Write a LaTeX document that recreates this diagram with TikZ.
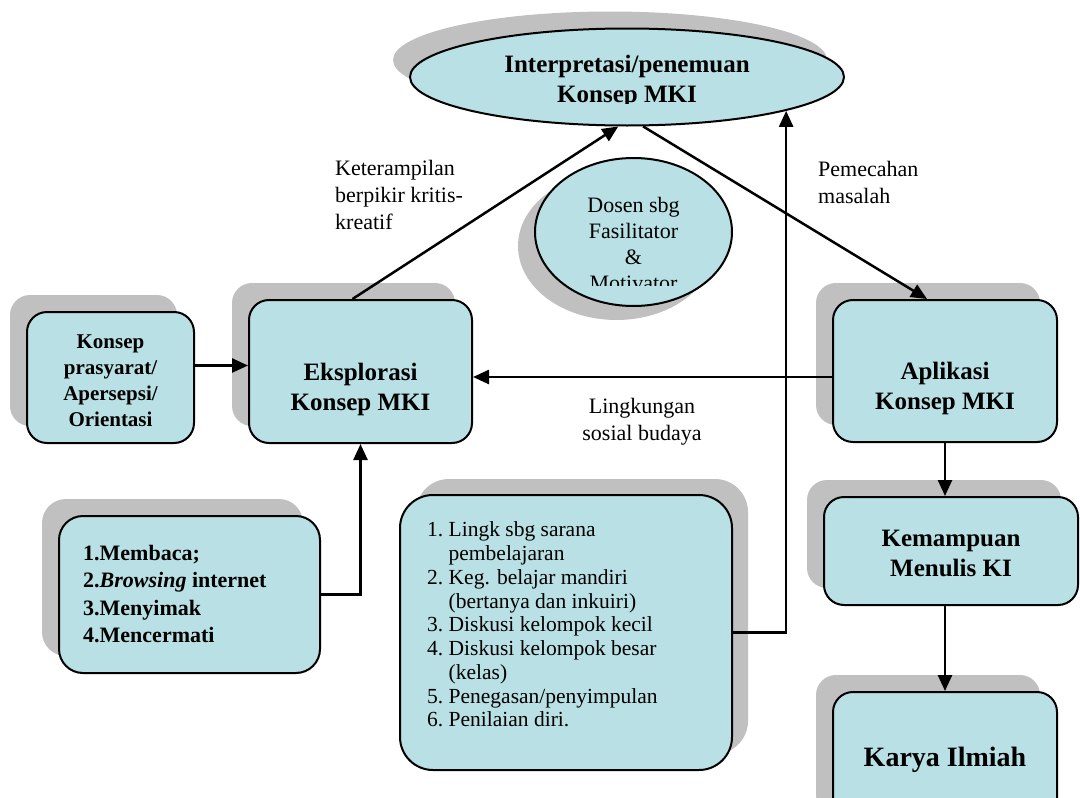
\documentclass[tikz,border=0pt]{standalone}
\usepackage{fontspec}
\setmainfont{Liberation Serif}
\usetikzlibrary{shadows,arrows.meta,shapes.geometric}
\definecolor{boxfill}{RGB}{185,224,228}
\definecolor{shgray}{RGB}{192,192,192}
\begin{document}
\begin{tikzpicture}[x=1pt,y=-1pt,
  box/.style={draw=black, line width=2pt, fill=boxfill, rounded corners=20pt, inner sep=0pt},
  ell/.style={draw=black, line width=2pt, fill=boxfill, ellipse, inner sep=0pt},
  shL/.style={general shadow={shadow xshift=-17pt, shadow yshift=17pt, fill=shgray}},
  shR/.style={general shadow={shadow xshift=16pt, shadow yshift=16pt, fill=shgray}},
  shD/.style={general shadow={shadow xshift=-17pt, shadow yshift=-14pt, fill=shgray}},
  arr/.style={line width=2.5pt, -{Triangle[length=16pt,width=14pt]}},
  reg/.style={font=\fontsize{22}{27}\selectfont, inner sep=0pt},
  bfa/.style={font=\bfseries\fontsize{25}{30}\selectfont, inner sep=0pt, align=center},
  bfb/.style={font=\bfseries\fontsize{21}{26}\selectfont, inner sep=0pt, align=center},
  bfc/.style={font=\bfseries\fontsize{22}{27.3}\selectfont, inner sep=0pt, align=left},
]
\useasboundingbox (0,0) rectangle (1080,798);

% main ellipse
\node[ell, shL, minimum width=434pt, minimum height=97pt] (interp) at (627,77) {};
\begin{scope}
  \clip (0,0) rectangle (1080,103);
  \node[bfa] (interpT) at (627,81) {Interpretasi/penemuan\\Konsep MKI};
\end{scope}

% dosen ellipse
\node[ell, shD, minimum width=197pt, minimum height=148pt] (dosen) at (633.5,232) {};
\begin{scope}
  \clip (0,0) rectangle (1080,285);
  \node[reg, align=center, font=\fontsize{22}{25.7}\selectfont] (dosenT) at (633.5,244) {Dosen sbg\\Fasilitator\\\&\\Motivator};
\end{scope}

% boxes
\node[box, shL, minimum width=167pt, minimum height=131pt] (pre) at (110.5,377.5) {};
\node[bfb] (preT) at (110.5,381) {Konsep\\prasyarat/\\Apersepsi/\\Orientasi};

\node[box, shL, minimum width=223pt, minimum height=143pt] (eks) at (360.5,371.5) {};
\node[bfa] (eksT) at (360.5,389) {Eksplorasi\\Konsep MKI};

\node[box, shL, minimum width=224pt, minimum height=142pt] (apl) at (945,371) {};
\node[bfa] (aplT) at (945,388) {Aplikasi\\Konsep MKI};

\node[box, shL, minimum width=254pt, minimum height=108pt] (kem) at (951,551) {};
\node[bfa] (kemT) at (951,553) {Kemampuan\\Menulis KI};

\node[box, shL, minimum width=224pt, minimum height=140pt] (kar) at (945,762) {};
\node[bfa, font=\bfseries\fontsize{28}{32}\selectfont] (karT) at (945,760) {Karya Ilmiah};

\node[box, shL, rounded corners=24pt, minimum width=261pt, minimum height=157pt] (mem) at (189.5,594.5) {};
\node[bfc, anchor=west] (memT) at (83,594) {1.Membaca;\\2.\textit{Browsing} internet\\3.Menyimak\\4.Mencermati};

\node[box, shR, rounded corners=33pt, minimum width=332pt, minimum height=275pt] (list) at (566,632.5) {};
\node[inner sep=0pt, anchor=west, font=\fontsize{21.5}{23.75}\selectfont] (listT) at (427,627) {%
  \begin{tabular}{@{}l@{\ }l@{}}
  1. & Lingk sbg sarana\\
     & pembelajaran\\
  2. & Keg. belajar mandiri\\
     & (bertanya dan inkuiri)\\
  3. & Diskusi kelompok kecil\\
  4. & Diskusi kelompok besar\\
     & (kelas)\\
  5. & Penegasan/penyimpulan\\
  6. & Penilaian diri.
  \end{tabular}};

% labels
\node[reg, align=left, anchor=west] (ktL) at (335,195) {Keterampilan\\berpikir kritis-\\kreatif};
\node[reg, align=left, anchor=west] (pmL) at (818,182) {Pemecahan\\masalah};
\node[reg, align=center] (lkL) at (642,422) {Lingkungan\\sosial budaya};

% connectors
\draw[arr] ([yshift=12pt]pre.east) -- ([yshift=12pt]pre.east -| eks.west);
\draw[arr] ([xshift=-8pt]eks.north) -- (interp.-100);
\draw[arr] (interp.-72) -- ([xshift=-18pt]apl.north);
\draw[arr] ([yshift=-6pt]apl.west) -- ([yshift=-6pt]apl.west -| eks.east);
\draw[arr] (mem.east) -| (eks.south);
\draw[arr] (list.east) -| (interp.-12);
\draw[arr] (apl.south) -- (apl.south |- kem.north);
\draw[arr] (kar.north |- kem.south) -- (kar.north);
\end{tikzpicture}
\end{document}
